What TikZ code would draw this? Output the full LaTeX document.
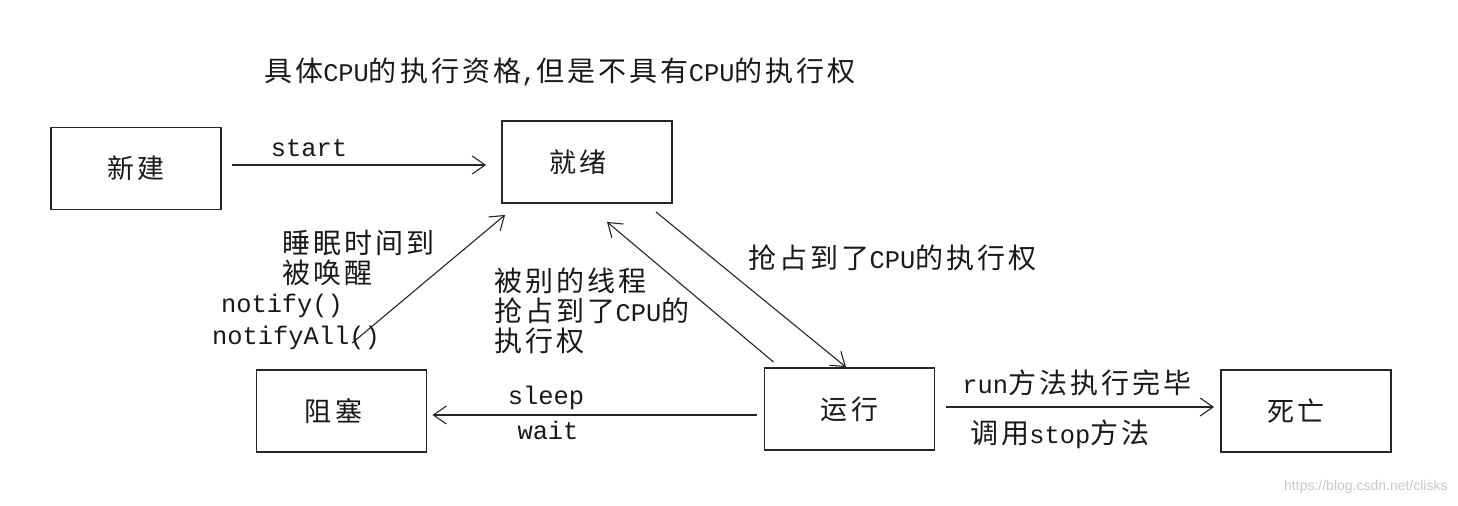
\documentclass[tikz,border=0pt]{standalone}
\usepackage{fontspec}
\setmainfont{Liberation Mono}
\newfontfamily\cjk[LetterSpace=11]{Noto Sans CJK SC}
\newfontfamily\cjkbox[LetterSpace=14]{Noto Sans CJK SC}
\newfontfamily\wmfont{Liberation Sans}
\usetikzlibrary{arrows.meta,calc}
\newcommand\zh[1]{{\cjk\fontsize{14pt}{15pt}\selectfont #1}}
\begin{document}
\setlength\lineskiplimit{-30pt}
\begin{tikzpicture}[x=0.5pt,y=-0.5pt,
  every node/.style={inner sep=0pt, text=black!90, font=\fontsize{12.7pt}{15pt}\selectfont},
  state/.style={draw=black!85, line width=0.9pt, minimum width=85pt, minimum height=41pt, font=\cjkbox\fontsize{13.5pt}{15pt}\selectfont},
  tleft/.style={execute at begin node={\hspace*{-#1pt}}},
  conn/.style={draw=black!85, line width=0.55pt, -{Straight Barb[length=6.5pt,width=9pt,line width=0.55pt]}},
  lbl/.style={align=left, anchor=west},
  ctext/.style={anchor=center}]
\fill[white] (0,0) rectangle (1458,505);
\useasboundingbox (0,0) rectangle (1458,505);

% states
\node[state] (xinjian) at (136,168.5) {新建};
\node[state, tleft=9] (jiuxu)   at (587,162)   {就绪};
\node[state, tleft=8] (zuse)    at (341.5,411) {阻塞};
\node[state] (yunxing) at (849.5,409) {运行};
\node[state, tleft=10] (siwang)  at (1306,411)  {死亡};

% connectors
\draw[conn] ($(xinjian.east)+(10,-3.5)$) -- ($(jiuxu.west)+(-15,3)$);
\draw[conn] ($(zuse.north)+(10.5,-26)$) -- ($(jiuxu.south west)+(4,11)$);
\draw[conn] ($(yunxing.north west)+(10,-5)$) -- ($(jiuxu.south)+(20,18)$);
\draw[conn] ($(jiuxu.south east)+(-17,8)$) -- ($(yunxing.north)+(-3.5,0)$);
\draw[conn] ($(yunxing.west)+(-7,6)$) -- ($(zuse.east)+(5,4)$);
\draw[conn] ($(yunxing.east)+(11,-2)$) -- ($(siwang.west)+(-6,-4)$);

% labels
\node[ctext] (title) at (560,72) {\zh{具体}CPU\zh{的执行资格},\zh{但是不具有}CPU\zh{的执行权}};
\node[ctext] (lstart) at (309,148) {start};
\node[lbl] (lwake) at (282,257.5) {\zh{睡眠时间到}\\\zh{被唤醒}};
\node[ctext] (lnotify) at (282,306) {notify()};
\node[ctext] (lnotifyall) at (296,338) {notifyAll()};
\node[lbl] (lpre) at (494,311) {\zh{被别的线程}\\\zh{抢占到了}CPU\zh{的}\\\zh{执行权}};
\node[lbl] (lgrab) at (748,258) {\zh{抢占到了}CPU\zh{的执行权}};
\node[ctext] (lsleep) at (546,398) {sleep};
\node[ctext] (lwait) at (548,430) {wait};
\node[lbl] (lrun) at (962,383) {run\zh{方法执行完毕}};
\node[lbl] (lstop) at (970,434) {\zh{调用}stop\zh{方法}};
\node[anchor=east, text=black!22, font=\wmfont\fontsize{7pt}{8pt}\selectfont] (wm) at (1448,487) {https://blog.csdn.net/clisks};
\end{tikzpicture}
\end{document}
